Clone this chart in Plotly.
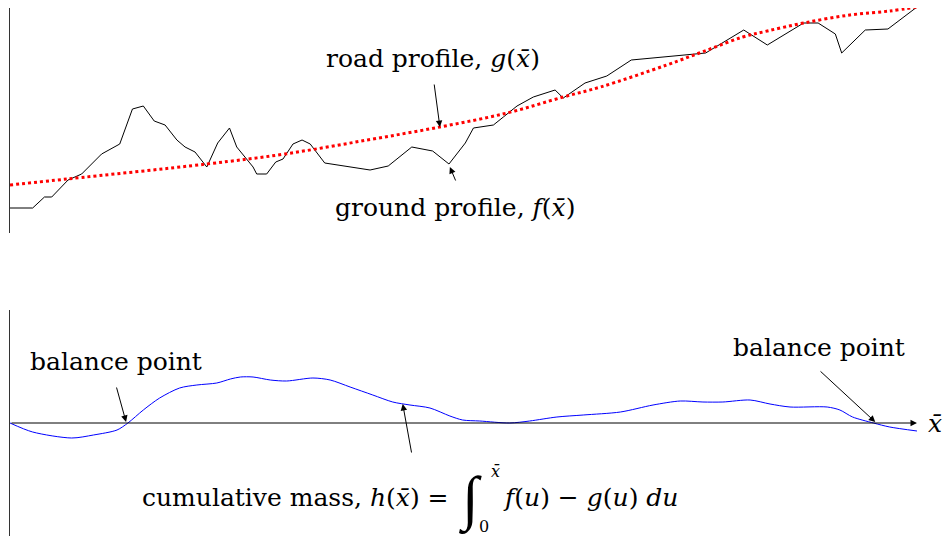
import plotly.graph_objects as go

# ---- data (distance along route 0..100) ----
ground_x = [0.0, 2.5, 3.8, 4.6, 6.4, 7.9, 10.1, 12.1, 13.5, 14.7, 15.9, 17.1, 18.4, 19.3,
            20.4, 21.7, 22.9, 24.2, 25.0, 25.9, 26.8, 27.2, 28.3, 29.3, 30.1, 31.2, 32.2,
            33.1, 34.7, 39.7, 41.7, 44.3, 46.6, 48.4, 50.2, 51.1, 53.3, 54.4, 55.9, 57.7,
            60.1, 61.0, 63.4, 65.8, 68.5, 76.7, 80.9, 83.5, 87.5, 89.1, 91.0, 91.7, 94.3,
            96.8, 100.0]
ground_y = [2.5, 2.5, 3.6, 3.6, 5.3, 5.9, 7.9, 8.9, 12.4, 12.7, 11.2, 10.8, 9.3, 8.6,
            8.1, 6.6, 9.0, 10.5, 8.6, 7.6, 6.6, 5.9, 5.9, 7.1, 7.4, 8.9, 9.3,
            8.9, 7.0, 6.3, 6.7, 8.6, 8.2, 6.9, 9.0, 10.5, 10.8, 11.6, 12.7, 13.6,
            14.3, 13.5, 15.0, 15.7, 17.3, 18.0, 20.3, 18.8, 21.0, 21.0, 19.9, 18.0, 20.3,
            20.4, 22.6]

road_x = [0.0, 6.3, 21.7, 30.3, 39.4, 47.4, 54.8, 61.0, 65.1, 72.4, 76.9, 80.8, 83.5,
          87.5, 92.6, 97.0, 100.0]
road_y = [4.8, 5.4, 6.9, 7.9, 9.3, 10.6, 12.0, 13.6, 14.6, 16.8, 18.3, 19.6, 20.2,
          21.0, 21.8, 22.2, 22.6]

mass_x = [0.0, 2.5, 6.8, 9.2, 11.8, 13.0, 14.7, 16.5, 18.7, 20.6, 22.8, 24.3, 25.4, 26.8,
          28.7, 30.5, 33.4, 35.3, 37.5, 40.0, 42.2, 44.1, 46.3, 48.5, 49.9, 51.8, 55.1,
          57.3, 60.3, 63.2, 67.3, 70.9, 73.9, 76.4, 78.6, 81.6, 83.8, 86.0, 90.1, 91.5,
          92.9, 95.2, 97.0, 100.0]
mass_h = [0.0, -0.9, -1.5, -1.2, -0.7, 0.0, 1.3, 2.5, 3.5, 3.8, 4.0, 4.4, 4.6, 4.6,
          4.3, 4.2, 4.5, 4.3, 3.6, 2.8, 2.1, 1.8, 1.5, 0.7, 0.3, 0.2, 0.0,
          0.2, 0.6, 0.8, 1.1, 1.8, 2.2, 2.1, 2.1, 2.3, 1.9, 1.6, 1.6, 1.3,
          0.6, 0.0, -0.4, -0.8]

FONT = "DejaVu Serif"
fig = go.Figure()
fig.add_trace(go.Scatter(x=ground_x, y=ground_y, mode="lines",
                         line=dict(color="black", width=1), xaxis="x", yaxis="y"))
fig.add_trace(go.Scatter(x=road_x, y=road_y, mode="lines",
                         line=dict(color="red", width=3, dash="dot", shape="spline"),
                         xaxis="x", yaxis="y"))
fig.add_trace(go.Scatter(x=mass_x, y=mass_h, mode="lines",
                         line=dict(color="blue", width=1, shape="spline", smoothing=0.8),
                         xaxis="x2", yaxis="y2"))

XR = [0, 102.98]
XD = [10 / 944, 1]
ax_common = dict(visible=False, range=XR, domain=XD, fixedrange=True)
yax_common = dict(showline=True, linecolor="#333", linewidth=1, showticklabels=False,
                  showgrid=False, zeroline=False, ticks="")

ann = []
def arrow(xr, yr, tail, tip):
    ann.append(dict(xref=xr, yref=yr, axref=xr, ayref=yr, x=tip[0], y=tip[1],
                    ax=tail[0], ay=tail[1], text="", showarrow=True, arrowhead=2,
                    arrowsize=1.3, arrowwidth=1, arrowcolor="black"))
def label(xr, yr, x, y, text, size=25, xanchor="center", family=FONT):
    ann.append(dict(xref=xr, yref=yr, x=x, y=y, text=text, showarrow=False,
                    xanchor=xanchor, yanchor="middle", borderpad=0,
                    font=dict(family=family, size=size, color="black")))

label("x", "y", 46.6, 17.5, "road profile, <i>g</i>(<i>x̄</i>)")
arrow("x", "y", (46.75, 15.0), (47.4, 10.6))
label("x", "y", 49.1, 2.6, "ground profile, <i>f</i>(<i>x̄</i>)")
arrow("x", "y", (49.2, 5.1), (48.5, 6.6))

# bottom panel
arrow("x2", "y2", (0, 0), (100, 0))
label("x2", "y2", 102.0, 0, "<i>x̄</i>", size=25)
label("x2", "y2", 11.7, 6.2, "balance point")
arrow("x2", "y2", (11.7, 3.7), (12.8, 0.1))
label("x2", "y2", 89.2, 7.6, "balance point")
arrow("x2", "y2", (89.2, 5.3), (95.4, 0.1))
arrow("x2", "y2", (44.3, -3.1), (43.3, 1.9))
label("x2", "y2", 48.5, -7.4, "cumulative mass, <i>h</i>(<i>x̄</i>) =", xanchor="right")
label("x2", "y2", 50.8, -7.7, "<i>∫</i>", size=60, family="Liberation Serif")
label("x2", "y2", 53.5, -4.8, "<i>x̄</i>", size=16)
label("x2", "y2", 52.3, -10.3, "0", size=16)
label("x2", "y2", 54.2, -7.4, "<i>f</i>(<i>u</i>) − <i>g</i>(<i>u</i>) <i>du</i>", xanchor="left")

fig.update_layout(
    width=944, height=536, margin=dict(l=0, r=0, t=0, b=0),
    paper_bgcolor="white", plot_bgcolor="white", showlegend=False,
    xaxis=dict(anchor="y", **ax_common),
    xaxis2=dict(anchor="y2", **ax_common),
    yaxis=dict(anchor="x", domain=[(536 - 233) / 536, (536 - 8) / 536], range=[0, 22.5],
               **yax_common),
    yaxis2=dict(anchor="x2", domain=[0, (536 - 310) / 536], range=[-11.3, 11.3],
                **yax_common),
    annotations=ann,
)
fig.write_html("out.html")
